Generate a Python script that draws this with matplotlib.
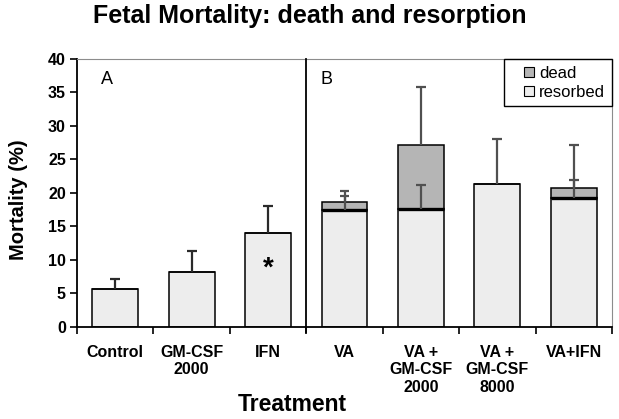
import numpy as np
import matplotlib
matplotlib.use("Agg")
import matplotlib.pyplot as plt
from matplotlib.lines import Line2D

plt.rcParams['font.family'] = ['Liberation Sans', 'DejaVu Sans']

# data
treatments = ['Control', 'GM-CSF\n2000', 'IFN', 'VA', 'VA +\nGM-CSF\n2000', 'VA +\nGM-CSF\n8000', 'VA+IFN']
resorbed = [5.7, 8.2, 14.1, 17.4, 17.6, 21.4, 19.3]
dead = [0.0, 0.0, 0.0, 1.2, 9.5, 0.0, 1.5]
resorbed_err = [1.5, 3.2, 3.9, 2.2, 3.6, 6.6, 2.7]
total_err = [0.0, 0.0, 0.0, 1.7, 8.7, 0.0, 6.3]

light = '#ededed'
darkfill = '#b5b5b5'

fig = plt.figure(figsize=(6.19, 4.19), dpi=100)
ax = fig.add_axes([0.1244, 0.2196, 0.8643, 0.6396])

x = np.arange(len(treatments))
w = 0.6
resorbed = np.array(resorbed)
dead = np.array(dead)
total = resorbed + dead

ax.bar(x, resorbed, w, color=light, edgecolor='black', linewidth=1.1, zorder=2)
ax.bar(x, dead, w, bottom=resorbed, color=darkfill, edgecolor='black', linewidth=1.1, zorder=2)

# thick border between resorbed and dead parts
for xi, r, d in zip(x, resorbed, dead):
    if d > 0:
        ax.plot([xi - w / 2, xi + w / 2], [r, r], color='black', lw=2.4, zorder=3, solid_capstyle='butt')


def upper_err(xi, base, err, col):
    cap = 0.065
    ax.vlines(xi, base, base + err, color=col, lw=1.6, zorder=4)
    ax.hlines(base + err, xi - cap, xi + cap, color=col, lw=1.6, zorder=4)


for xi, r, d, er, et in zip(x, resorbed, dead, resorbed_err, total_err):
    col = '#2a2a2a' if xi < 3 else '#505050'
    if et > 0:
        upper_err(xi, r + d, et, col)
    upper_err(xi, r, er, col)

ax.text(2, 8.7, '*', ha='center', va='center', fontsize=20, fontweight='bold')

ax.set_xlim(-0.5, len(treatments) - 0.5)
ax.set_ylim(0, 40)
ax.set_yticks(np.arange(0, 41, 5))
ax.set_xticks(x)
ax.set_xticklabels(treatments, fontsize=11.5, fontweight='bold', linespacing=1.2)
ax.set_xticks(np.arange(-0.5, len(treatments)), minor=True)
ax.tick_params(axis='x', which='major', length=0, pad=13)
ax.tick_params(axis='x', which='minor', length=5, width=1.2)
ax.tick_params(axis='y', labelsize=11.5, length=5, width=1.2, pad=3)
for lab in ax.get_yticklabels():
    lab.set_fontweight('bold')

ax.spines['left'].set_linewidth(1.3)
ax.spines['bottom'].set_linewidth(1.3)
ax.spines['top'].set_color('#8c8c8c')
ax.spines['right'].set_color('#8c8c8c')

# divider between panel A and panel B
ax.axvline(2.5, color='black', lw=1.3, ymin=-0.02, ymax=1, clip_on=False, zorder=5)

ax.text(0.045, 0.905, 'A', transform=ax.transAxes, fontsize=13)
ax.text(0.455, 0.905, 'B', transform=ax.transAxes, fontsize=13)

ax.set_ylabel('Mortality (%)', fontsize=14.5, fontweight='bold')
ax.yaxis.set_label_coords(-0.092, 0.474)
ax.set_xlabel('Treatment', fontsize=16.5, fontweight='bold')
ax.xaxis.set_label_coords(0.402, -0.246)
fig.suptitle('Fetal Mortality: death and resorption', fontsize=18, fontweight='bold', x=0.5, y=0.99)

handles = [Line2D([], [], ls='none', marker='s', markersize=7.2, markerfacecolor=darkfill,
                  markeredgecolor='black', markeredgewidth=0.8, label='dead'),
           Line2D([], [], ls='none', marker='s', markersize=7.2, markerfacecolor=light,
                  markeredgecolor='black', markeredgewidth=0.8, label='resorbed')]
leg = ax.legend(handles=handles, loc='upper right', fontsize=12, fancybox=False,
                borderaxespad=0, handlelength=2.2, handletextpad=-0.45,
                labelspacing=0.25, borderpad=0.4, framealpha=1)
leg.get_frame().set_edgecolor('black')
leg.get_frame().set_linewidth(1.0)

fig.savefig('out.png', dpi=100)
